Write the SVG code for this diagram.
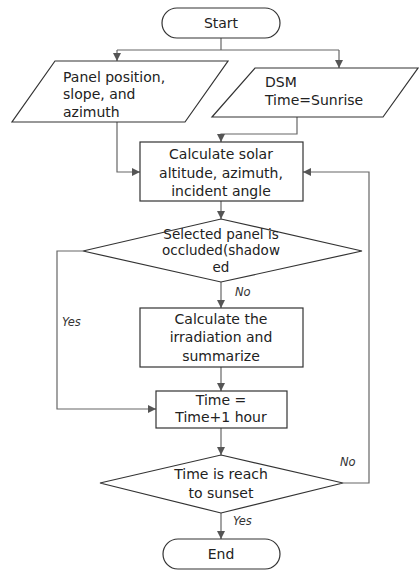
<svg xmlns="http://www.w3.org/2000/svg" width="419" height="570" viewBox="0 0 419 570">
<defs>
<marker id="arr" viewBox="0 0 8 8" refX="8" refY="4" markerWidth="8" markerHeight="8" markerUnits="userSpaceOnUse" orient="auto">
<path d="M0,0 L8,4 L0,8 Z" fill="#555"/>
</marker>
<style>
.shape{fill:#fff;stroke:#333;stroke-width:1.2}
.t{font-family:"DejaVu Sans",Verdana,sans-serif;font-size:14px;fill:#222}
.d{font-size:13.5px}
.c{text-anchor:middle}
.lbl{font-family:"DejaVu Sans",Verdana,sans-serif;font-size:11.5px;font-style:italic;fill:#333}
.ln{fill:none;stroke:#666;stroke-width:1.2}
</style>
</defs>
<rect width="419" height="570" fill="#fff"/>
<g id="connectors">
<path class="ln" d="M221,38 V50"/>
<path class="ln" d="M117,50 H339"/>
<path class="ln" d="M117,50 V61" marker-end="url(#arr)"/>
<path class="ln" d="M339,50 V68" marker-end="url(#arr)"/>
<path class="ln" d="M117,122 V172 H140" marker-end="url(#arr)"/>
<path class="ln" d="M297,117 V134 H221 V142" marker-end="url(#arr)"/>
<path class="ln" d="M221,201 V219" marker-end="url(#arr)"/>
<path class="ln" d="M221,282 V308" marker-end="url(#arr)"/>
<path class="ln" d="M83,251 H57 V409 H156" marker-end="url(#arr)"/>
<path class="ln" d="M221,367 V391" marker-end="url(#arr)"/>
<path class="ln" d="M221,428 V455" marker-end="url(#arr)"/>
<path class="ln" d="M343,483 H369 V172 H303" marker-end="url(#arr)"/>
<path class="ln" d="M221,513 V539" marker-end="url(#arr)"/>
<text class="lbl" x="235" y="296">No</text>
<text class="lbl" x="62" y="326">Yes</text>
<text class="lbl" x="340" y="466">No</text>
<text class="lbl" x="233" y="525">Yes</text>
</g>
<g id="start">
<rect class="shape" x="162" y="8" width="118" height="30" rx="15" ry="15"/>
<text class="t c" x="221" y="28">Start</text>
</g>
<g id="input-panel">
<polygon class="shape" points="55,61 228,61 185,122 12,122"/>
<text class="t" x="63" y="82">Panel position,</text>
<text class="t" x="63" y="99">slope, and</text>
<text class="t" x="63" y="117">azimuth</text>
</g>
<g id="input-dsm">
<polygon class="shape" points="255,68 418,68 383,117 212,117"/>
<text class="t" x="265" y="87">DSM</text>
<text class="t" x="265" y="105">Time=Sunrise</text>
</g>
<g id="calc-solar">
<rect class="shape" x="140" y="142" width="163" height="59"/>
<text class="t c" x="221" y="159">Calculate solar</text>
<text class="t c" x="221" y="178">altitude, azimuth,</text>
<text class="t c" x="221" y="196">incident angle</text>
</g>
<g id="decision-occluded">
<polygon class="shape" points="221,219 362,251 221,282 83,251"/>
<text class="t d c" x="221" y="239">Selected panel is</text>
<text class="t d c" x="221" y="255">occluded(shadow</text>
<text class="t d c" x="221" y="272">ed</text>
</g>
<g id="calc-irradiation">
<rect class="shape" x="140" y="308" width="163" height="59"/>
<text class="t c" x="221" y="324">Calculate the</text>
<text class="t c" x="221" y="342">irradiation and</text>
<text class="t c" x="221" y="361">summarize</text>
</g>
<g id="time-step">
<rect class="shape" x="156" y="391" width="131" height="37"/>
<text class="t c" x="221" y="405">Time =</text>
<text class="t c" x="221" y="422">Time+1 hour</text>
</g>
<g id="decision-sunset">
<polygon class="shape" points="221,455 343,483 221,513 100,483"/>
<text class="t c" x="221" y="479">Time is reach</text>
<text class="t c" x="221" y="498">to sunset</text>
</g>
<g id="end">
<rect class="shape" x="163" y="539" width="117" height="30" rx="15" ry="15"/>
<text class="t c" x="221" y="559">End</text>
</g>
</svg>
